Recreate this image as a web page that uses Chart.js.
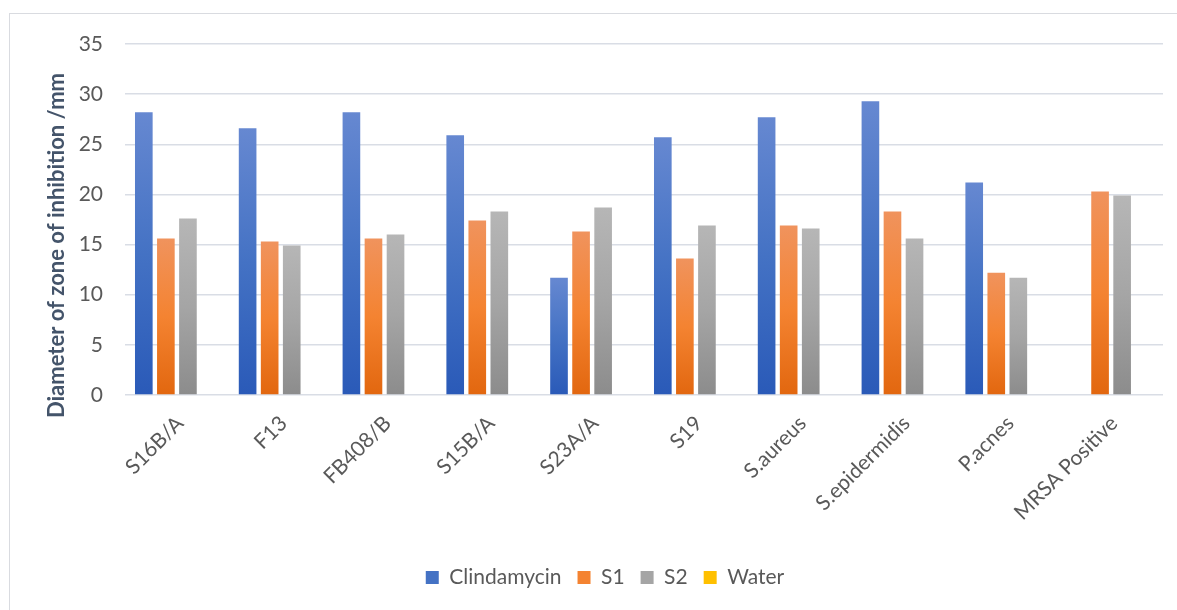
<!DOCTYPE html>
<html>
<head>
<meta charset="utf-8">
<script src="https://cdn.jsdelivr.net/npm/chart.js@4/dist/chart.umd.min.js"></script>
<style>
  html, body { margin: 0; padding: 0; background: #fff; overflow: hidden; }
  #wrap { position: relative; width: 1177px; height: 610px; overflow: hidden; }
  #frame { position: absolute; left: 9px; top: 13px; width: 1300px; height: 800px; border: 1px solid #d9dbe0; box-sizing: border-box; }
  #c { position: absolute; left: 0; top: 0; }
</style>
</head>
<body>
<div id="wrap">
  <div id="frame"></div>
  <canvas id="c" width="1177" height="610"></canvas>
</div>
<script>
const categories = ['S16B/A', 'F13', 'FB408/B', 'S15B/A', 'S23A/A', 'S19', 'S.aureus', 'S.epidermidis', 'P.acnes', 'MRSA Positive'];
const clindamycin = [28.2, 26.6, 28.2, 25.9, 11.7, 25.7, 27.7, 29.3, 21.2, 0];
const s1 = [15.6, 15.3, 15.6, 17.4, 16.3, 13.6, 16.9, 18.3, 12.2, 20.3];
const s2 = [17.6, 14.9, 16.0, 18.3, 18.7, 16.9, 16.6, 15.6, 11.7, 19.9];
const water = [0, 0, 0, 0, 0, 0, 0, 0, 0, 0];
const seriesNames = ['Clindamycin', 'S1', 'S2', 'Water'];
const yTicks = { min: 0, max: 35, step: 5 };
const yTitle = 'Diameter of zone of inhibition /mm';

const palette = [
  ['#6688d1', '#4472c4', '#2a5ab8'],
  ['#f0935d', '#f48331', '#e2670f'],
  ['#b6b6b6', '#a5a5a5', '#8c8c8c'],
  ['#ffd24d', '#ffc000', '#e6a800']
];

function gradFill(stops) {
  return (ctx) => {
    const chart = ctx.chart;
    if (!chart.chartArea || ctx.type !== 'data') return stops[1];
    const ys = chart.scales.y;
    const top = ys.getPixelForValue(ctx.parsed.y);
    const bot = ys.getPixelForValue(0);
    if (!(bot - top > 0)) return stops[1];
    const g = chart.ctx.createLinearGradient(0, top, 0, bot);
    g.addColorStop(0, stops[0]);
    g.addColorStop(0.5, stops[1]);
    g.addColorStop(1, stops[2]);
    return g;
  };
}

const FONT = 'Lato, "Open Sans", sans-serif';

const yTitlePlugin = {
  id: 'yTitlePlugin',
  afterDraw(chart) {
    const c = chart.ctx;
    const a = chart.chartArea;
    c.save();
    c.translate(57, (a.top + a.bottom) / 2 + 26);
    c.rotate(-Math.PI / 2);
    c.font = 'bold 22px ' + FONT;
    c.fillStyle = '#44546a';
    c.textAlign = 'center';
    c.textBaseline = 'middle';
    c.fillText(yTitle, 0, 0);
    c.restore();
  }
};

const seriesData = [clindamycin, s1, s2, water];

new Chart(document.getElementById('c'), {
  type: 'bar',
  data: {
    labels: categories,
    datasets: seriesNames.map((name, i) => ({
      label: name,
      data: seriesData[i],
      backgroundColor: gradFill(palette[i]),
      borderWidth: 0,
      categoryPercentage: 0.85,
      barPercentage: 0.8
    }))
  },
  options: {
    responsive: false,
    devicePixelRatio: 1,
    animation: false,
    layout: { padding: { left: 47, right: 14, top: 44, bottom: 12 } },
    plugins: {
      tooltip: { enabled: false },
      title: { display: false },
      legend: {
        position: 'bottom',
        labels: {
          font: { family: FONT, size: 21 },
          color: '#595959',
          boxWidth: 13,
          boxHeight: 13,
          padding: 16,
          generateLabels(chart) {
            return chart.data.datasets.map((ds, i) => ({
              text: ds.label,
              fillStyle: palette[i][1],
              strokeStyle: palette[i][1],
              lineWidth: 0,
              hidden: false,
              datasetIndex: i,
              fontColor: '#595959'
            }));
          }
        }
      }
    },
    scales: {
      x: {
        grid: { display: false },
        border: { display: false },
        ticks: {
          font: { family: FONT, size: 21 },
          color: '#595959',
          maxRotation: 45,
          minRotation: 45,
          autoSkip: false,
          padding: 8,
          labelOffset: 3
        },
        afterFit(s) { s.height = 156; }
      },
      y: {
        min: yTicks.min,
        max: yTicks.max,
        grid: { color: '#d9dde5', lineWidth: 1.5, drawTicks: false },
        border: { display: false },
        ticks: {
          stepSize: yTicks.step,
          font: { family: FONT, size: 21 },
          color: '#595959',
          padding: 22
        },
        afterFit(s) { s.width = 78; }
      }
    }
  },
  plugins: [yTitlePlugin]
});
</script>
</body>
</html>
